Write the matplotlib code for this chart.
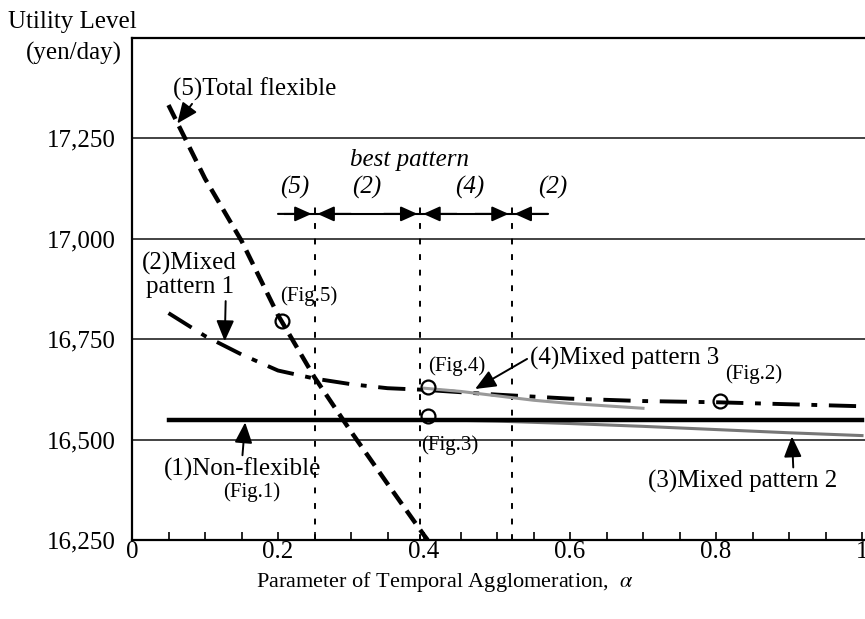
import matplotlib
matplotlib.use("Agg")
import matplotlib.pyplot as plt

plt.rcParams['font.family'] = ['Liberation Serif', 'DejaVu Serif']
plt.rcParams['mathtext.fontset'] = 'stix'

# curves
x_total = [0.05, 0.10, 0.15, 0.20, 0.25, 0.30, 0.35, 0.40, 0.405]
u_total = [17333, 17150, 16995, 16810, 16655, 16520, 16390, 16262, 16250]

x_mixed1 = [0.05, 0.10, 0.15, 0.20, 0.25, 0.30, 0.35, 0.40, 0.50, 0.60, 0.70, 0.80, 0.90, 1.00]
u_mixed1 = [16815, 16758, 16712, 16672, 16652, 16638, 16628, 16624, 16612, 16602, 16596, 16593, 16588, 16583]

x_mixed3 = [0.40, 0.45, 0.50, 0.55, 0.60, 0.70]
u_mixed3 = [16628, 16620, 16609, 16598, 16590, 16578]

x_mixed2 = [0.40, 0.50, 0.60, 0.70, 0.80, 0.90, 1.00]
u_mixed2 = [16550, 16546, 16540, 16533, 16525, 16517, 16510]

x_nonflex = [0.05, 1.00]
u_nonflex = [16548, 16548]

fig_x = [0.205, 0.405, 0.405, 0.805]
fig_u = [16795, 16630, 16560, 16595]

bounds = [0.25, 0.395, 0.52]
best_labels = ['(5)', '(2)', '(4)', '(2)']
best_x = [0.223, 0.322, 0.463, 0.577]

yticks = [16250, 16500, 16750, 17000, 17250]
ytick_labels = ['16,250', '16,500', '16,750', '17,000', '17,250']
xticks = [0, 0.2, 0.4, 0.6, 0.8, 1.0]
xtick_labels = ['0', '0.2', '0.4', '0.6', '0.8', '1']

fig = plt.figure(figsize=(8.65, 6.19), dpi=100)
ax = fig.add_axes([132 / 865, 79 / 619, 733 / 865, 502 / 619])
ax.set_xlim(0, 733 / 730)
ax.set_ylim(16250, 17500)

for y in yticks[1:]:
    ax.axhline(y, color='#222222', lw=1.2, zorder=1)

for b in bounds:
    ax.plot([b, b], [16250, 17100], color='k', lw=1.4, ls=(0, (3, 5)), zorder=1)

ax.plot(x_nonflex, u_nonflex, color='k', lw=3.2, zorder=3)
ax.plot(x_mixed2, u_mixed2, color='#777777', lw=2.2, zorder=2)
ax.plot(x_mixed1, u_mixed1, color='k', lw=2.8, ls=(0, (7, 3, 1.5, 3)), zorder=3)
ax.plot(x_mixed3, u_mixed3, color='#999999', lw=2.2, zorder=4)
ax.plot(x_total, u_total, color='k', lw=3.2, ls=(0, (3.5, 1.8)), zorder=3)
ax.plot(fig_x, fig_u, 'o', ms=10, mfc='none', mec='k', mew=1.6, zorder=5)

# best pattern bar
yb = 17062
ax.plot([0.21, 0.568], [yb, yb], color='k', lw=1.5, zorder=4)
for b in bounds:
    for side in (-1, 1):
        ax.annotate('', xy=(b + side * 0.004, yb), xytext=(b + side * 0.05, yb),
                    arrowprops=dict(arrowstyle='-|>,head_length=1.0,head_width=0.45',
                                    color='k', lw=1.5, shrinkA=0, shrinkB=0))
ax.text(0.38, 17195, 'best pattern', fontsize=18, style='italic', ha='center', va='center')
for lab, xx in zip(best_labels, best_x):
    ax.text(xx, 17128, lab, fontsize=18, style='italic', ha='center', va='center')

arrow = dict(arrowstyle='-|>,head_length=0.7,head_width=0.3', color='k', lw=1.4,
             shrinkA=0, shrinkB=0)
ax.annotate('(5)Total flexible', xy=(0.062, 17287), xytext=(0.056, 17372),
            fontsize=18, ha='left', va='center',
            arrowprops=dict(arrow, relpos=(0.13, 0.0)))
ax.annotate('(2)Mixed\npattern 1', xy=(0.127, 16745), xytext=(0.079, 16910),
            fontsize=18, ha='center', va='center', linespacing=1.1,
            arrowprops=dict(arrow, relpos=(0.88, 0.0)))
ax.annotate('(4)Mixed pattern 3', xy=(0.47, 16626), xytext=(0.545, 16702),
            fontsize=18, ha='left', va='center',
            arrowprops=dict(arrow, relpos=(0.0, 0.55)))
ax.annotate('(1)Non-flexible', xy=(0.155, 16543), xytext=(0.151, 16425),
            fontsize=18, ha='center', va='center',
            arrowprops=dict(arrow, relpos=(0.5, 1.0)))
ax.annotate('(3)Mixed pattern 2', xy=(0.904, 16508), xytext=(0.836, 16395),
            fontsize=18, ha='center', va='center',
            arrowprops=dict(arrow, relpos=(0.77, 1.0)))

ax.text(0.164, 16368, '(Fig.1)', fontsize=15, ha='center', va='center')
ax.text(0.812, 16662, '(Fig.2)', fontsize=15, ha='left', va='center')
ax.text(0.396, 16487, '(Fig.3)', fontsize=15, ha='left', va='center')
ax.text(0.405, 16682, '(Fig.4)', fontsize=15, ha='left', va='center')
ax.text(0.203, 16857, '(Fig.5)', fontsize=15, ha='left', va='center')

ax.set_yticks(yticks)
ax.set_yticklabels(ytick_labels, fontsize=18)
ax.set_xticks(xticks)
ax.set_xticklabels(xtick_labels, fontsize=18)
ax.set_xticks([i * 0.05 for i in range(21)], minor=True)
ax.tick_params(axis='y', length=0, pad=12)
ax.tick_params(axis='x', which='both', direction='in', length=6, width=1.2, pad=1)
ax.spines['right'].set_visible(False)
for s in ('left', 'bottom', 'top'):
    ax.spines[s].set_linewidth(1.6)

fig.text(8 / 865, 1 - 22 / 619, 'Utility Level', fontsize=18, ha='left', va='center')
fig.text(122 / 865, 1 - 53 / 619, '(yen/day)', fontsize=18, ha='right', va='center')
fig.text(445 / 865, 1 - 582 / 619, r'Parameter of Temporal Agglomeration,  $\alpha$',
         fontsize=16, ha='center', va='center')

fig.savefig('out.png', dpi=100)
